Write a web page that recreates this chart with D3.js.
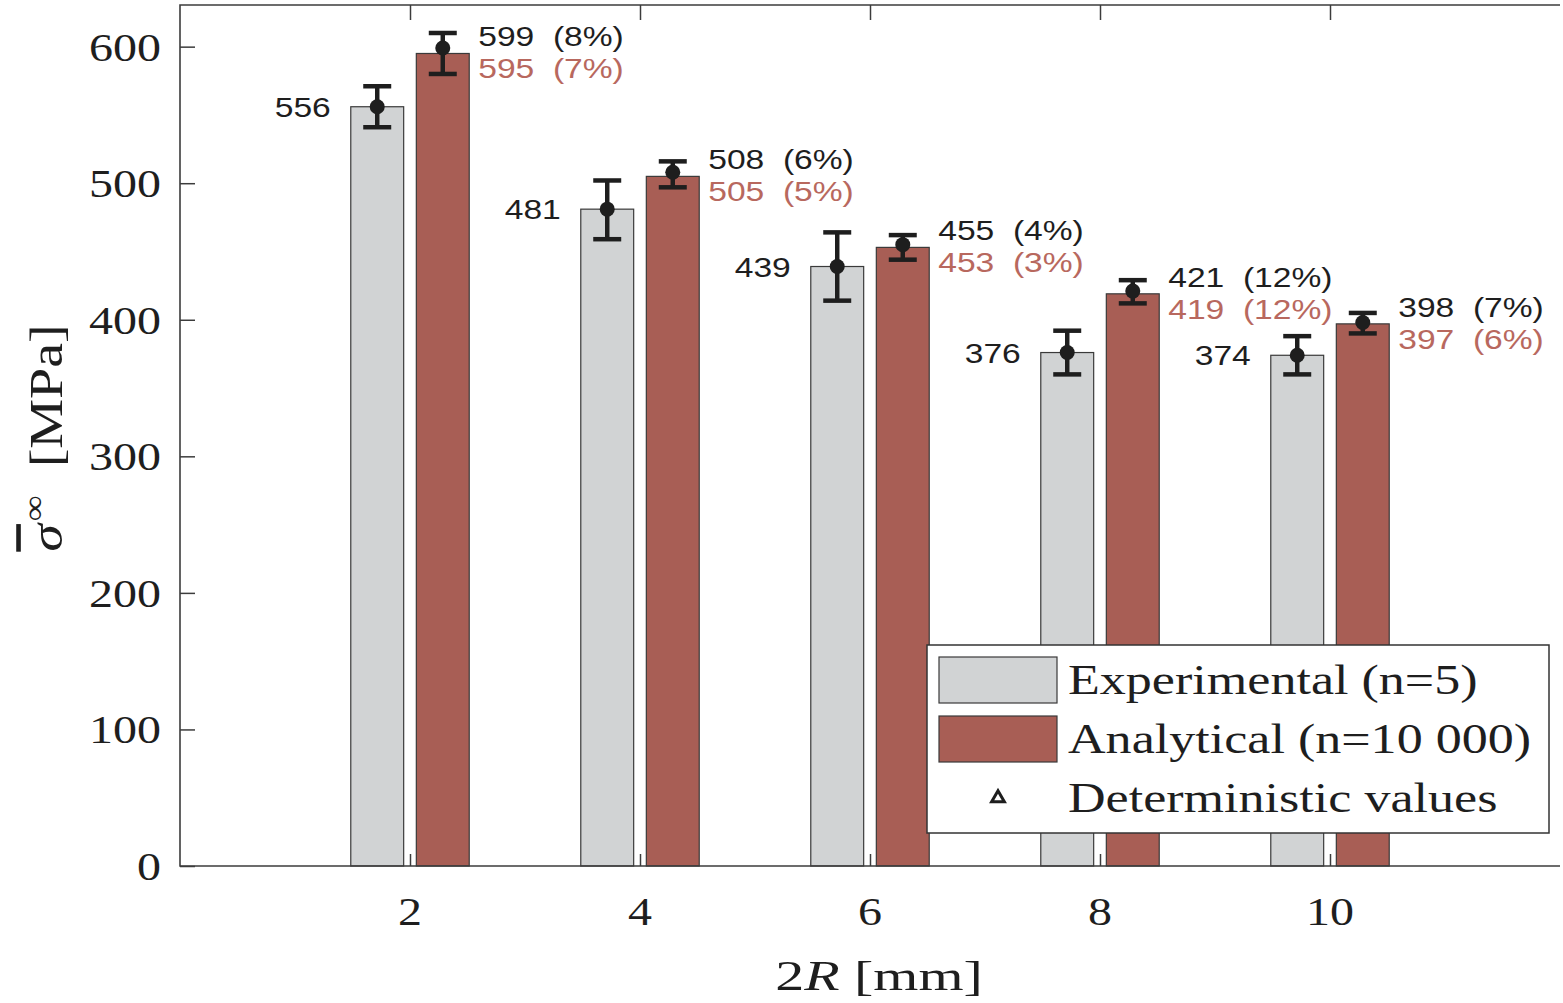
<!DOCTYPE html>
<html>
<head>
<meta charset="utf-8">
<script src="https://cdn.jsdelivr.net/npm/d3@7"></script>
<style>
  body { margin: 0; background: #fff; }
  svg { display: block; }
</style>
</head>
<body>
<svg></svg>
<script>
// diameters 2R [mm]
let diameters = [2, 4, 6, 8, 10]

// experimental means and error bar ends
let expValues = [556, 481, 439, 376, 374]
let expHigh = [571, 502, 464, 392, 388]
let expLow = [541, 459, 414, 360, 360]

// analytical values, scatter in % and error bar ends
let anaValues = [595, 505, 453, 419, 397]
let anaPct = [7, 5, 3, 12, 6]
let anaHigh = [610, 516, 462, 429, 405]
let anaLow = [580, 497, 444, 412, 390]

// deterministic values (black label + marker on analytical bar)
let detValues = [599, 508, 455, 421, 398]
let detPct = [8, 6, 4, 12, 7]

let yTicks = [0, 100, 200, 300, 400, 500, 600]
let legendLabels = ['Experimental (n=5)', 'Analytical (n=10 000)', 'Deterministic values']

let width = 1563
let height = 1003
let plotLeft = 180, plotRight = 1560, plotTop = 5, plotBottom = 866

let grey = '#d1d3d4'
let red = '#a85e55'
let redText = '#b8685e'
let ink = '#1e1e1e'
let serif = '"Liberation Serif", "Times New Roman", serif'
let sans = '"Liberation Sans", Arial, sans-serif'
let sx = 1.2   // the reference glyphs are stretched horizontally

let svg = d3.select('svg').attr('width', width).attr('height', height)

let x = d3.scaleLinear().domain([0, 12]).range([plotLeft, plotRight])
let y = d3.scaleLinear().domain([0, 630.5]).range([plotBottom, plotTop])

let off = 0.285, bw = 0.46

// helper: stretched text
const label = (g, px, py, str) => {
    return g.append('text')
        .attr('transform', 'translate(' + px + ',' + py + ') scale(' + sx + ',1)')
        .text(str)
}

// bars
let bars = svg.append('g')
bars.selectAll('rect.exp')
    .data(diameters)
    .enter()
    .append('rect')
    .attr('class', 'exp')
    .attr('x', (d) => x(d - off - bw / 2))
    .attr('width', (d) => x(d - off + bw / 2) - x(d - off - bw / 2))
    .attr('y', (d, i) => y(expValues[i]))
    .attr('height', (d, i) => y(0) - y(expValues[i]))
    .attr('fill', grey)
    .attr('stroke', '#3a3a3a')
    .attr('stroke-width', 1.2)

bars.selectAll('rect.ana')
    .data(diameters)
    .enter()
    .append('rect')
    .attr('class', 'ana')
    .attr('x', (d) => x(d + off - bw / 2))
    .attr('width', (d) => x(d + off + bw / 2) - x(d + off - bw / 2))
    .attr('y', (d, i) => y(anaValues[i]))
    .attr('height', (d, i) => y(0) - y(anaValues[i]))
    .attr('fill', red)
    .attr('stroke', '#3a3a3a')
    .attr('stroke-width', 1.2)

// error bars
const errorBars = (xs, lows, highs, dots) => {
    let g = svg.append('g').attr('stroke', ink).attr('stroke-width', 4.5)
    xs.forEach((cx, i) => {
        g.append('line').attr('x1', cx).attr('x2', cx).attr('y1', y(lows[i])).attr('y2', y(highs[i]))
        g.append('line').attr('x1', cx - 14).attr('x2', cx + 14).attr('y1', y(lows[i])).attr('y2', y(lows[i]))
        g.append('line').attr('x1', cx - 14).attr('x2', cx + 14).attr('y1', y(highs[i])).attr('y2', y(highs[i]))
        g.append('circle').attr('cx', cx).attr('cy', y(dots[i])).attr('r', 7.5)
            .attr('fill', ink).attr('stroke', 'none')
    })
}
errorBars(diameters.map((d) => x(d - off)), expLow, expHigh, expValues)
errorBars(diameters.map((d) => x(d + off)), anaLow, anaHigh, detValues)

// value labels
let vl = svg.append('g').attr('font-family', sans).attr('font-size', 28)
diameters.forEach((d, i) => {
    label(vl, x(d - off - bw / 2) - 20, y(expValues[i]) + 10, expValues[i])
        .attr('text-anchor', 'end').attr('fill', ink)
    label(vl, x(d + off + bw / 2) + 9, y(anaValues[i]) - 7, detValues[i] + '  (' + detPct[i] + '%)')
        .attr('fill', ink).style('white-space', 'pre')
    label(vl, x(d + off + bw / 2) + 9, y(anaValues[i]) + 25, anaValues[i] + '  (' + anaPct[i] + '%)')
        .attr('fill', redText).style('white-space', 'pre')
})

// axes frame
let axisColor = '#3c3c3c'
svg.append('path')
    .attr('d', 'M' + plotRight + ',' + plotTop + 'H' + plotLeft + 'V' + plotBottom + 'H' + plotRight)
    .attr('fill', 'none')
    .attr('stroke', axisColor)
    .attr('stroke-width', 1.6)

let yAxis = svg.append('g')
    .attr('transform', 'translate(' + plotLeft + ',0)')
    .call(d3.axisRight(y).tickValues(yTicks).tickSize(15).tickFormat(''))
yAxis.select('.domain').remove()
yAxis.selectAll('line').attr('stroke', axisColor).attr('stroke-width', 1.5)

let xBottom = svg.append('g')
    .attr('transform', 'translate(0,' + plotBottom + ')')
    .call(d3.axisTop(x).tickValues(diameters).tickSize(12).tickFormat(''))
xBottom.select('.domain').remove()
xBottom.selectAll('line').attr('stroke', axisColor).attr('stroke-width', 1.5)

let xTop = svg.append('g')
    .attr('transform', 'translate(0,' + plotTop + ')')
    .call(d3.axisBottom(x).tickValues(diameters).tickSize(15).tickFormat(''))
xTop.select('.domain').remove()
xTop.selectAll('line').attr('stroke', axisColor).attr('stroke-width', 1.5)

// tick labels
let tl = svg.append('g').attr('font-family', serif).attr('font-size', 40).attr('fill', ink)
yTicks.forEach((t) => {
    label(tl, 161, y(t) + 14, t).attr('text-anchor', 'end')
})
diameters.forEach((d) => {
    label(tl, x(d), 925, d).attr('text-anchor', 'middle')
})

// axis titles
let xt = svg.append('text')
    .attr('transform', 'translate(879,990) scale(1.38,1)')
    .attr('font-family', serif).attr('font-size', 42).attr('fill', ink).attr('text-anchor', 'middle')
    .style('white-space', 'pre')
xt.append('tspan').text('2')
xt.append('tspan').attr('font-style', 'italic').text('R')
xt.append('tspan').text(' [mm]')

let yt = svg.append('text')
    .attr('transform', 'translate(62,438) rotate(-90) scale(1.4,1.15)')
    .attr('font-family', serif).attr('font-size', 40).attr('fill', ink).attr('text-anchor', 'middle')
    .style('white-space', 'pre')
yt.append('tspan').attr('font-style', 'italic').style('text-decoration', 'overline').text('σ')
yt.append('tspan').attr('font-size', 26).attr('dx', 2).attr('dy', -16).text('∞')
yt.append('tspan').attr('dy', 16).text('  [MPa]')

// legend
let lg = svg.append('g')
lg.append('rect')
    .attr('x', 927).attr('y', 645).attr('width', 622).attr('height', 188)
    .attr('fill', '#fff').attr('stroke', '#333').attr('stroke-width', 1.5)
let patchColors = [grey, red]
patchColors.forEach((c, i) => {
    lg.append('rect')
        .attr('x', 939).attr('y', 657 + i * 59).attr('width', 118).attr('height', 46)
        .attr('fill', c).attr('stroke', '#3a3a3a').attr('stroke-width', 1.2)
})
let tri = d3.symbol().type(d3.symbolTriangle).size(70)
lg.append('path')
    .attr('d', tri())
    .attr('transform', 'translate(998,798)')
    .attr('fill', 'none').attr('stroke', ink).attr('stroke-width', 3)
let lt = lg.append('g').attr('font-family', serif).attr('font-size', 42).attr('fill', ink)
legendLabels.forEach((s, i) => {
    label(lt, 1068, 694 + i * 59, s).attr('transform', 'translate(1068,' + (694 + i * 59) + ') scale(1.24,1)')
})
</script>
</body>
</html>
